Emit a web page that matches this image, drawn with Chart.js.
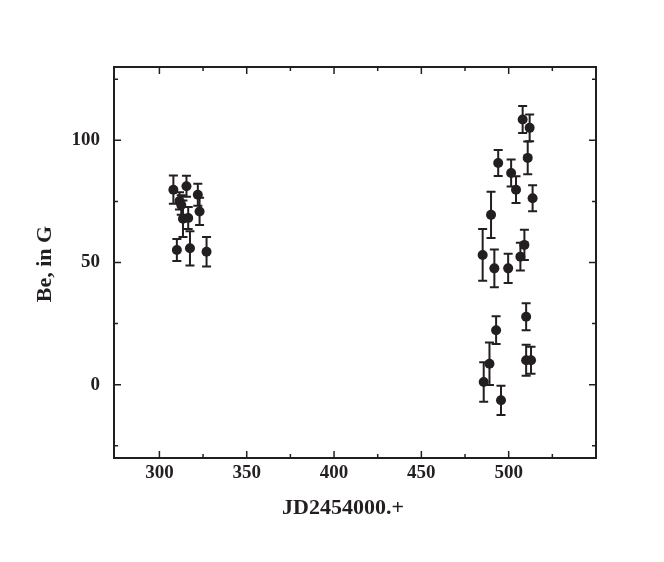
<!DOCTYPE html>
<html><head><meta charset="utf-8">
<script src="https://cdn.jsdelivr.net/npm/chart.js@4"></script>
<style>html,body{margin:0;padding:0;background:#fff}</style>
</head><body>
<canvas id="c" width="664" height="562" style="width:664px;height:562px;display:block"></canvas>
<script>
// Data (JD - 2454000, Be in G, error)
const jd  = [308, 315.5, 322, 311.5, 312.5, 323, 313.5, 316.5, 310, 317.5, 327,
             485.1, 489.9, 491.8, 494, 499.7, 501.4, 504.2, 506.7, 508, 509, 510.9, 512, 513.7,
             510, 492.8, 489, 485.7, 495.6, 510, 512.8];
const be  = [79.8, 81.2, 77.7, 75.2, 73.5, 70.9, 67.9, 68.2, 55.1, 55.8, 54.4,
             53.1, 69.5, 47.6, 90.7, 47.6, 86.6, 79.8, 52.4, 108.5, 57.2, 92.8, 105.1, 76.3,
             27.8, 22.3, 8.6, 1.1, -6.4, 10, 10];
const err = [5.8, 4.3, 4.5, 3.5, 4, 5.6, 7.5, 4.5, 4.5, 7, 6,
             10.6, 9.5, 7.7, 5.3, 6, 5.5, 5.5, 5.7, 5.5, 6.2, 6.7, 5.5, 5.3,
             5.5, 5.7, 8.7, 8.1, 6, 6.3, 5.5];
const xTicks  = [300, 325, 350, 375, 400, 425, 450, 475, 500, 525, 550];
const xLabels = [300, 350, 400, 450, 500];
const yTicks  = [-25, 0, 25, 50, 75, 100, 125];
const yLabels = [0, 50, 100];
const xTitle = 'JD2454000.+';
const yTitle = 'Be, in G';

const INK = '#231f20';
const tickFont = {family: '"Liberation Serif", "Times New Roman", serif', size: 19, weight: 'bold'};

const points = jd.map((x, i) => ({x: x, y: be[i]}));

const errorBars = {
  id: 'errorBars',
  beforeDatasetsDraw(chart) {
    const ctx = chart.ctx, xs = chart.scales.x, ys = chart.scales.y;
    ctx.save();
    ctx.strokeStyle = INK; ctx.lineWidth = 2;
    jd.forEach((x, i) => {
      const px = xs.getPixelForValue(x);
      const top = ys.getPixelForValue(be[i] + err[i]);
      const bot = ys.getPixelForValue(be[i] - err[i]);
      ctx.beginPath();
      ctx.moveTo(px, top); ctx.lineTo(px, bot);
      ctx.moveTo(px - 4.5, top); ctx.lineTo(px + 4.5, top);
      ctx.moveTo(px - 4.5, bot); ctx.lineTo(px + 4.5, bot);
      ctx.stroke();
    });
    ctx.restore();
  }
};

const frame = {
  id: 'frame',
  afterDraw(chart) {
    const ctx = chart.ctx, a = chart.chartArea, xs = chart.scales.x, ys = chart.scales.y;
    ctx.save();
    ctx.strokeStyle = INK; ctx.lineWidth = 2;
    ctx.strokeRect(a.left, a.top, a.right - a.left, a.bottom - a.top);
    ctx.lineWidth = 1.5;
    ctx.beginPath();
    xTicks.forEach(v => {
      const px = xs.getPixelForValue(v);
      const len = xLabels.includes(v) || v === 550 ? 7 : 4;
      ctx.moveTo(px, a.bottom); ctx.lineTo(px, a.bottom - len);
      ctx.moveTo(px, a.top); ctx.lineTo(px, a.top + len);
    });
    yTicks.forEach(v => {
      const py = ys.getPixelForValue(v);
      const len = yLabels.includes(v) ? 7 : 4;
      ctx.moveTo(a.left, py); ctx.lineTo(a.left + len, py);
      ctx.moveTo(a.right, py); ctx.lineTo(a.right - len, py);
    });
    ctx.stroke();
    // axis titles
    ctx.fillStyle = INK;
    ctx.font = 'bold 22px "Liberation Serif", "Times New Roman", serif';
    ctx.textAlign = 'center'; ctx.textBaseline = 'middle';
    ctx.fillText(xTitle, 343, 508);
    ctx.translate(45, 264);
    ctx.rotate(-Math.PI / 2);
    ctx.fillText(yTitle, 0, 0);
    ctx.restore();
  }
};

new Chart(document.getElementById('c'), {
  type: 'scatter',
  data: {datasets: [{
    data: points,
    backgroundColor: INK, borderColor: INK,
    pointRadius: 5, pointHoverRadius: 5, borderWidth: 0
  }]},
  options: {
    responsive: false, animation: false,
    plugins: {legend: {display: false}, tooltip: {enabled: false}},
    layout: {padding: {left: 0, top: 67, right: 68, bottom: 0}},
    scales: {
      x: {
        type: 'linear', min: 274, max: 550,
        afterFit(s) { s.height = 104; },
        afterBuildTicks(s) { s.ticks = xTicks.map(v => ({value: v})); },
        grid: {display: false, drawTicks: false},
        border: {display: false},
        ticks: {
          autoSkip: false, maxRotation: 0, padding: 4, color: INK, font: tickFont,
          callback: v => xLabels.includes(v) ? String(v) : ''
        }
      },
      y: {
        type: 'linear', min: -30, max: 130,
        afterFit(s) { s.width = 114; },
        afterBuildTicks(s) { s.ticks = yTicks.map(v => ({value: v})); },
        grid: {display: false, drawTicks: false},
        border: {display: false},
        ticks: {
          autoSkip: false, padding: 14, color: INK, font: tickFont,
          callback: v => yLabels.includes(v) ? String(v) : ''
        }
      }
    }
  },
  plugins: [errorBars, frame]
});
</script>
</body></html>
